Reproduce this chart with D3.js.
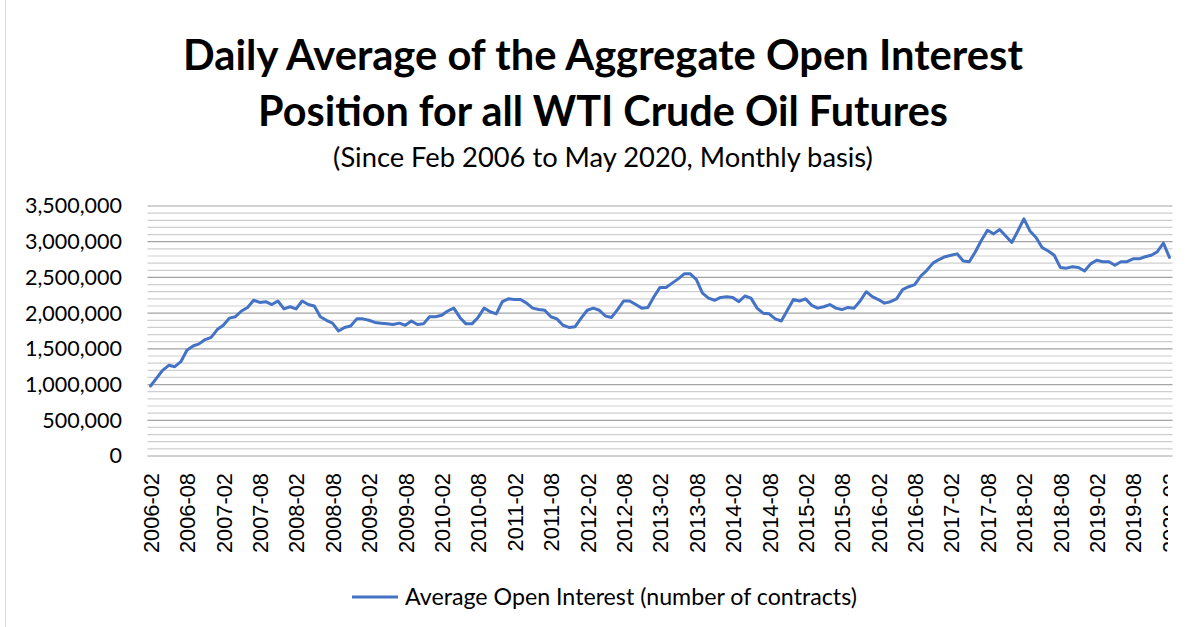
<!DOCTYPE html>
<html>
<head>
<meta charset="utf-8">
<script src="https://cdn.jsdelivr.net/npm/d3@7"></script>
<style>
  body { margin: 0; background: #fff; }
  svg { display: block; }
</style>
</head>
<body>
<svg id="OpenInterestChart"></svg>
<script>
// chart texts
let titleLines = ["Daily Average of the Aggregate Open Interest", "Position for all WTI Crude Oil Futures"];
let subtitle = "(Since Feb 2006 to May 2020, Monthly basis)";
let seriesName = "Average Open Interest (number of contracts)";

// categories: one per month, Feb 2006 .. Feb 2020
let firstMonth = new Date(2006, 1, 1);
let endMonth = new Date(2020, 2, 1);   // exclusive
let labelEvery = 6;                    // a label every 6 months

// y axis ticks
let yTicks = [0, 500000, 1000000, 1500000, 2000000, 2500000, 3000000, 3500000];
let yMinorStep = 100000;

// average open interest
let openInterest = [
  980000, 1090000, 1200000, 1270000, 1250000, 1320000, 1480000, 1540000, 1570000, 1630000,
  1660000, 1770000, 1830000, 1930000, 1950000, 2030000, 2080000, 2180000, 2150000, 2160000,
  2120000, 2170000, 2060000, 2090000, 2060000, 2170000, 2120000, 2100000,
  1950000, 1900000, 1860000, 1750000, 1800000, 1820000, 1920000, 1920000, 1900000, 1870000,
  1860000, 1850000, 1840000, 1860000, 1830000, 1890000, 1840000, 1850000, 1950000, 1950000,
  1970000, 2030000, 2070000, 1940000, 1850000, 1850000, 1940000, 2070000, 2020000, 1990000,
  2160000, 2200000, 2190000, 2190000, 2140000, 2070000, 2050000, 2040000, 1950000, 1920000,
  1830000, 1800000, 1810000, 1930000, 2040000, 2070000, 2040000, 1960000, 1940000, 2050000,
  2170000, 2170000, 2120000, 2070000, 2080000, 2230000,
  2360000, 2360000, 2420000, 2480000, 2550000, 2550000, 2470000, 2280000, 2210000, 2180000,
  2220000, 2230000, 2220000, 2160000, 2240000, 2210000, 2070000, 2000000, 1990000, 1920000,
  1890000, 2040000, 2190000, 2170000, 2200000, 2110000, 2070000, 2090000, 2120000, 2070000,
  2050000, 2080000, 2070000, 2170000, 2300000, 2230000, 2190000, 2140000, 2160000, 2200000,
  2330000, 2370000, 2400000, 2520000, 2600000, 2700000, 2750000, 2790000, 2810000, 2830000,
  2730000, 2720000,
  2860000, 3020000, 3160000, 3110000, 3170000, 3080000, 2990000, 3150000, 3320000,
  3150000, 3060000, 2920000, 2870000, 2810000, 2640000, 2630000, 2650000, 2640000, 2590000,
  2690000, 2740000, 2720000, 2720000, 2670000, 2720000, 2720000, 2760000, 2760000, 2790000,
  2810000, 2860000, 2980000, 2780000
];

function getConfig() {
    let width = 1190;
    let height = 627;
    // plot area (where the line and gridlines live)
    let plot = { left: 147.5, right: 1172.5, top: 206, bottom: 456 };
    let container = d3.select("#OpenInterestChart")
        .attr("width", width)
        .attr("height", height);
    return { width, height, plot, container };
}

function getScales(months, config) {
    let { plot } = config;
    // points sit in the middle of each category, like Excel's "between tick marks"
    let xScale = d3.scalePoint()
        .domain(months)
        .range([plot.left, plot.right])
        .padding(0.5);
    let yScale = d3.scaleLinear()
        .domain([0, d3.max(yTicks)])
        .range([plot.bottom, plot.top]);
    return { xScale, yScale };
}

// shrink/grow a text so it spans the given width
function fitText(sel, targetWidth) {
    let size = parseFloat(sel.attr("font-size"));
    let w = sel.node().getComputedTextLength();
    sel.attr("font-size", (size * targetWidth / w).toFixed(2));
}

function drawTitles(config) {
    let { container } = config;
    let cx = 603;
    let t1 = container.append("text")
        .attr("x", cx).attr("y", 70)
        .attr("text-anchor", "middle")
        .attr("font-family", "Lato, 'Open Sans', sans-serif")
        .attr("font-weight", "bold")
        .attr("font-size", 37)
        .attr("fill", "#000")
        .text(titleLines[0]);
    fitText(t1, 840);
    let t2 = container.append("text")
        .attr("x", cx).attr("y", 126)
        .attr("text-anchor", "middle")
        .attr("font-family", "Lato, 'Open Sans', sans-serif")
        .attr("font-weight", "bold")
        .attr("font-size", 37)
        .attr("fill", "#000")
        .text(titleLines[1]);
    fitText(t2, 690);
    let st = container.append("text")
        .attr("x", cx).attr("y", 167)
        .attr("text-anchor", "middle")
        .attr("font-family", "Lato, 'Open Sans', sans-serif")
        .attr("font-size", 22)
        .attr("fill", "#000")
        .text(subtitle);
    fitText(st, 540);
}

function drawGrid(scales, config) {
    let { yScale } = scales;
    let { plot, container } = config;
    let minor = d3.range(0, d3.max(yTicks) + 1, yMinorStep).filter(v => yTicks.indexOf(v) < 0);
    let grid = container.append("g");
    grid.selectAll(".minor").data(minor).enter().append("line")
        .attr("class", "minor")
        .attr("x1", plot.left).attr("x2", plot.right)
        .attr("y1", d => yScale(d)).attr("y2", d => yScale(d))
        .attr("stroke", "#cfcfcf")
        .attr("stroke-width", 1.2);
    grid.selectAll(".major").data(yTicks).enter().append("line")
        .attr("class", "major")
        .attr("x1", plot.left).attr("x2", plot.right)
        .attr("y1", d => yScale(d)).attr("y2", d => yScale(d))
        .attr("stroke", "#a3a3a3")
        .attr("stroke-width", 1.2);
}

function drawAxes(labelMonths, scales, config) {
    let { xScale, yScale } = scales;
    let { plot, container } = config;

    let axisY = d3.axisLeft(yScale)
        .tickValues(yTicks)
        .tickSize(0)
        .tickPadding(plot.left - 122)
        .tickFormat(d3.format(","));
    let gy = container.append("g")
        .attr("transform", "translate(" + plot.left + ",0)")
        .call(axisY);
    gy.select(".domain").remove();
    gy.selectAll("text")
        .attr("font-family", "Lato, sans-serif")
        .attr("font-size", 21.5)
        .attr("fill", "#000");

    // the last label is cut off at the right in the picture
    container.append("clipPath").attr("id", "xLabelClip")
        .append("rect").attr("x", 0).attr("y", 0).attr("width", 1168).attr("height", 627);

    let axisX = d3.axisBottom(xScale)
        .tickValues(labelMonths)
        .tickSize(0);
    let gx = container.append("g")
        .attr("clip-path", "url(#xLabelClip)")
        .append("g")
        .attr("transform", "translate(0," + plot.bottom + ")")
        .call(axisX);
    gx.select(".domain").remove();
    gx.selectAll("text")
        .attr("transform", "rotate(-90)")
        .attr("text-anchor", "end")
        .attr("x", -17)
        .attr("y", 0)
        .attr("dy", "0.36em")
        .attr("font-family", "'Liberation Sans', Arial, sans-serif")
        .attr("font-size", 21.8)
        .attr("fill", "#000");
}

function drawLine(data, scales, config) {
    let { xScale, yScale } = scales;
    let { container } = config;
    let line = d3.line()
        .x(d => xScale(d.month))
        .y(d => yScale(d.value));
    container.append("path")
        .datum(data)
        .attr("d", line)
        .attr("fill", "none")
        .attr("stroke", "#4472C4")
        .attr("stroke-width", 3)
        .attr("stroke-linejoin", "round")
        .attr("stroke-linecap", "round");
}

function drawLegend(config) {
    let { container } = config;
    container.append("line")
        .attr("x1", 352).attr("x2", 398)
        .attr("y1", 597).attr("y2", 597)
        .attr("stroke", "#4472C4")
        .attr("stroke-width", 3);
    let lt = container.append("text")
        .attr("x", 405).attr("y", 597)
        .attr("dy", "0.35em")
        .attr("font-family", "Lato, sans-serif")
        .attr("font-size", 20)
        .attr("fill", "#000")
        .text(seriesName);
    fitText(lt, 452);
}

function drawChart() {
    let fmt = d3.timeFormat("%Y-%m");
    let months = d3.timeMonth.range(firstMonth, endMonth).map(fmt);
    let data = months.map((m, i) => ({ month: m, value: openInterest[i] }));
    let labelMonths = months.filter((m, i) => i % labelEvery === 0);

    let config = getConfig();
    let scales = getScales(months, config);

    // light frame line on the left edge, as in the picture
    config.container.append("line")
        .attr("x1", 5.5).attr("x2", 5.5).attr("y1", 0).attr("y2", config.height)
        .attr("stroke", "#d9d9d9").attr("stroke-width", 1);

    drawTitles(config);
    drawGrid(scales, config);
    drawAxes(labelMonths, scales, config);
    drawLine(data, scales, config);
    drawLegend(config);
}

drawChart();
</script>
</body>
</html>
